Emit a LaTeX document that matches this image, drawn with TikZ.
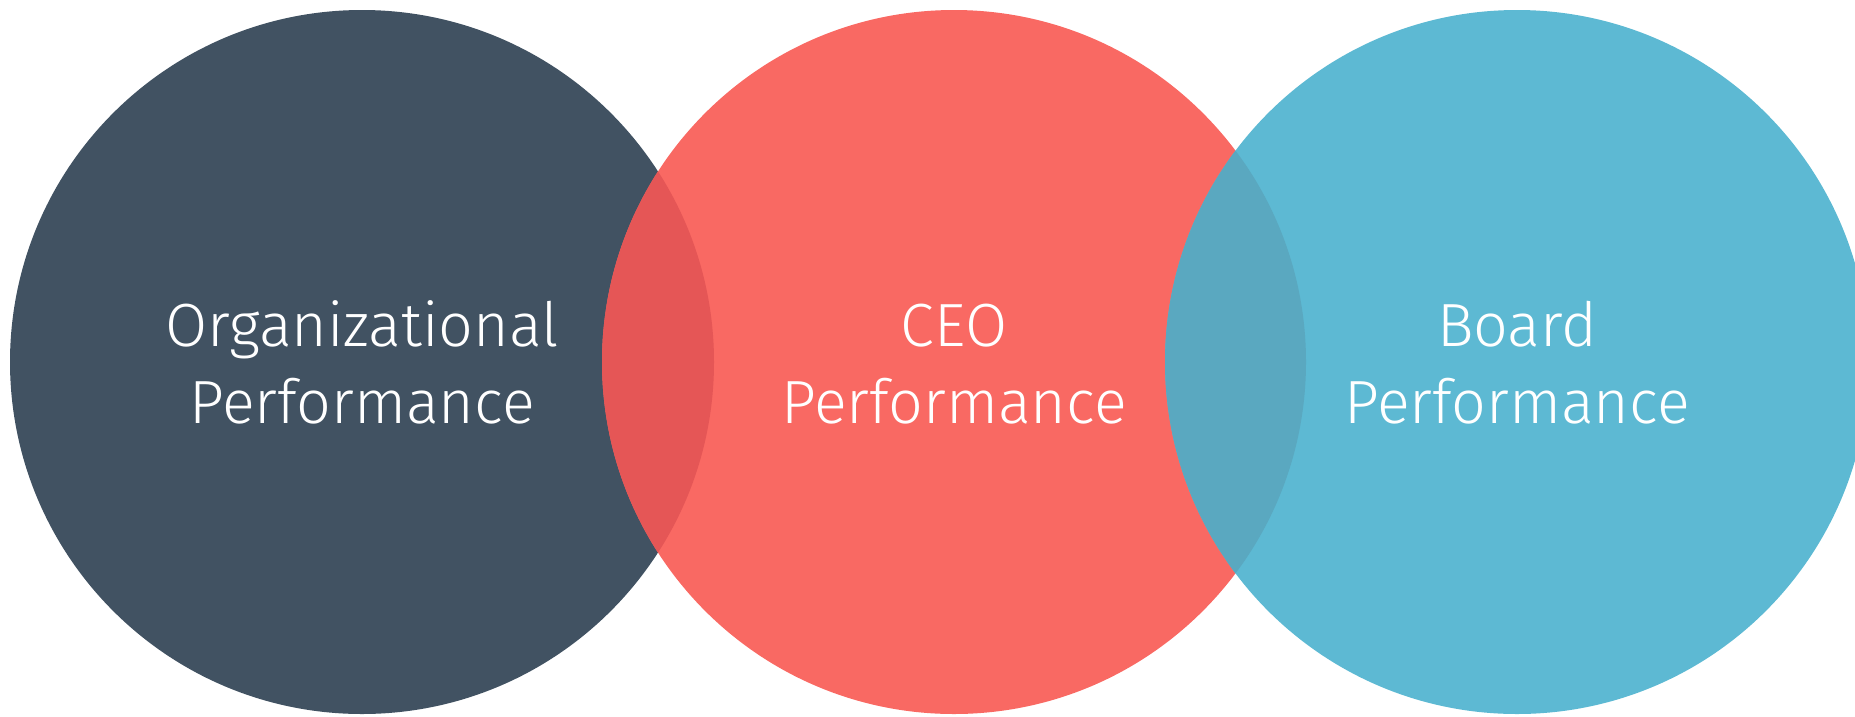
\documentclass[tikz,border=0pt]{standalone}
\usepackage{fontspec}
\setmainfont{Fira Sans}[UprightFont=* Light]
\definecolor{slate}{HTML}{415262}
\definecolor{coral}{HTML}{F96963}
\definecolor{sky}{HTML}{5DB9D3}
\definecolor{coraldeep}{HTML}{E55656}
\definecolor{skydeep}{HTML}{5AA8C0}
\tikzset{
  lbl/.style={anchor=base, text=white, inner sep=0pt, font=\fontsize{61}{76}\selectfont},
}
\begin{document}
\begin{tikzpicture}[x=1pt,y=-1pt]
  \useasboundingbox (0,0) rectangle (1855,716);
  \coordinate (cl) at (362,362);
  \coordinate (cm) at (954,362);
  \coordinate (cr) at (1517,362);
  \def\rad{352}
  % the three discs
  \fill[slate] (cl) circle (\rad);
  \fill[coral] (cm) circle (\rad);
  \fill[sky] (cr) circle (\rad);
  % lens where the left and middle discs overlap
  \begin{scope}
    \clip (cl) circle (\rad);
    \fill[coraldeep] (cm) circle (\rad);
  \end{scope}
  % lens where the middle and right discs overlap
  \begin{scope}
    \clip (cm) circle (\rad);
    \fill[skydeep] (cr) circle (\rad);
  \end{scope}
  % labels
  \node[lbl] (orgA) at (362,346.7) {Organizational};
  \node[lbl] (orgB) at (362,423.3) {Performance};
  \node[lbl] (ceoA) at (954,346.7) {CEO};
  \node[lbl] (ceoB) at (954,423.3) {Performance};
  \node[lbl] (brdA) at (1517,346.7) {Board};
  \node[lbl] (brdB) at (1517,423.3) {Performance};
\end{tikzpicture}
\end{document}
